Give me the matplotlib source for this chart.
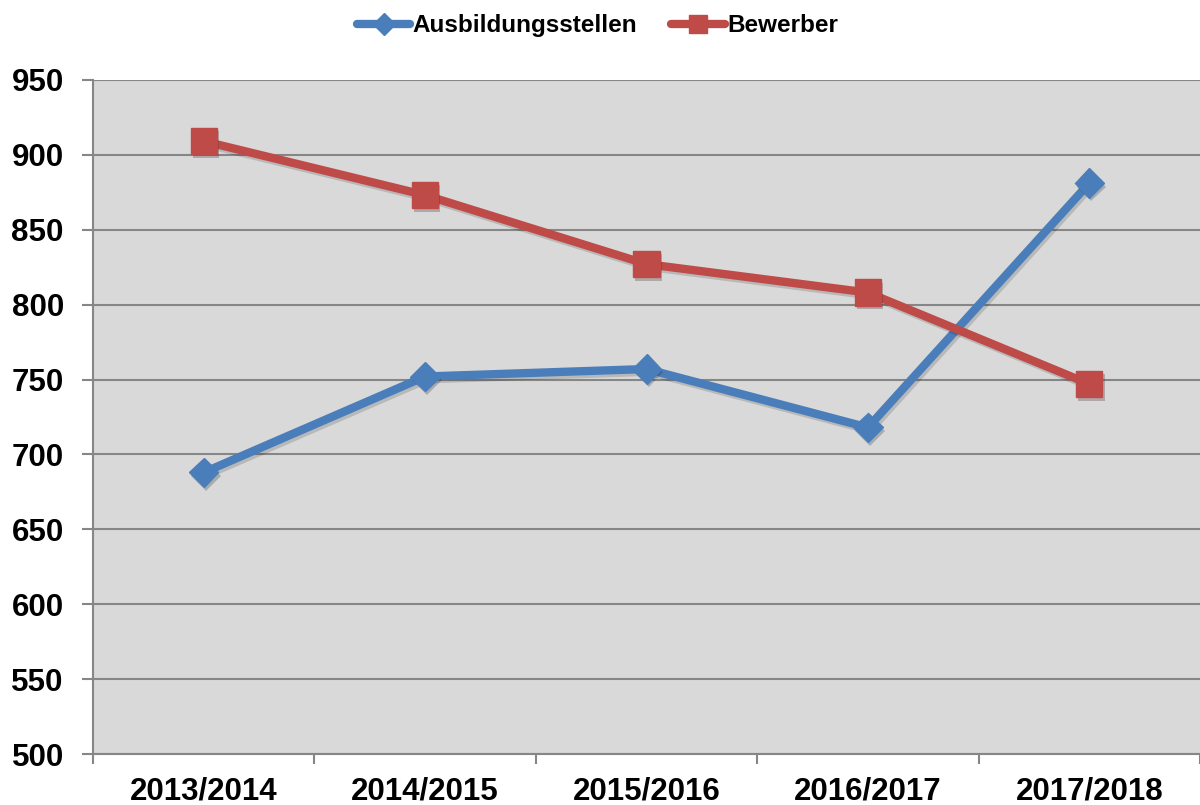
import matplotlib.pyplot as plt
import matplotlib.patheffects as pe
from matplotlib.lines import Line2D

plt.rcParams['font.family'] = ['Liberation Sans', 'DejaVu Sans']

jahre = ['2013/2014', '2014/2015', '2015/2016', '2016/2017', '2017/2018']
ausbildungsstellen = [688, 752, 757, 718, 881]
bewerber = [909, 873, 827, 808, 747]
y_ticks = [500, 550, 600, 650, 700, 750, 800, 850, 900, 950]

blau = '#4a7ebb'
rot = '#be4b48'

fig = plt.figure(figsize=(12, 8.05), dpi=100)
ax = fig.add_axes([0.0775, 0.063, 0.9225, 0.838])
ax.set_facecolor('#d9d9d9')

line_shadow = [pe.SimpleLineShadow(offset=(1.5, -2), alpha=0.15), pe.Normal()]
mark_shadow = [pe.SimplePatchShadow(offset=(1.5, -2.5), alpha=0.25), pe.Normal()]
x = list(range(len(jahre)))

ax.plot(x, ausbildungsstellen, color=blau, lw=6, solid_joinstyle='round',
        path_effects=line_shadow, zorder=3)
ax.plot(x, ausbildungsstellen, ls='none', marker='D', ms=15, color=blau,
        path_effects=mark_shadow, zorder=4)
ax.plot(x, bewerber, color=rot, lw=6, solid_joinstyle='round',
        path_effects=line_shadow, zorder=3)
ax.plot(x, bewerber, ls='none', marker='s', ms=19, color=rot,
        path_effects=mark_shadow, zorder=4)

ax.set_ylim(500, 950)
ax.set_yticks(y_ticks)
ax.set_xlim(-0.5, 4.5)
ax.set_xticks(x)
ax.set_xticklabels(jahre)
ax.set_xticks([i - 0.5 for i in range(len(jahre) + 1)], minor=True)
ax.yaxis.grid(True, color='#868686', lw=1.5)
ax.set_axisbelow(True)

for s in ['top', 'right']:
    ax.spines[s].set_visible(False)
for s in ['left', 'bottom']:
    ax.spines[s].set_color('#868686')
    ax.spines[s].set_linewidth(1.5)

ax.tick_params(axis='y', length=8, width=1.5, color='#868686', labelsize=22.5, pad=13)
ax.tick_params(axis='x', which='major', length=0, labelsize=22.5, pad=16)
ax.tick_params(axis='x', which='minor', length=7, width=1.5, color='#868686')
for lbl in ax.get_xticklabels() + ax.get_yticklabels():
    lbl.set_fontweight('bold')

handles = [Line2D([], [], color=blau, lw=6, marker='D', ms=11, solid_capstyle='round'),
           Line2D([], [], color=rot, lw=6, marker='s', ms=13, solid_capstyle='round')]
fig.legend(handles, ['Ausbildungsstellen', 'Bewerber'], loc='center',
           bbox_to_anchor=(0.498, 0.968), ncol=2, frameon=False,
           prop={'weight': 'bold', 'size': 17.5}, handlelength=2.2,
           handletextpad=0.1, columnspacing=1.4)

fig.savefig('out.png', dpi=100)
